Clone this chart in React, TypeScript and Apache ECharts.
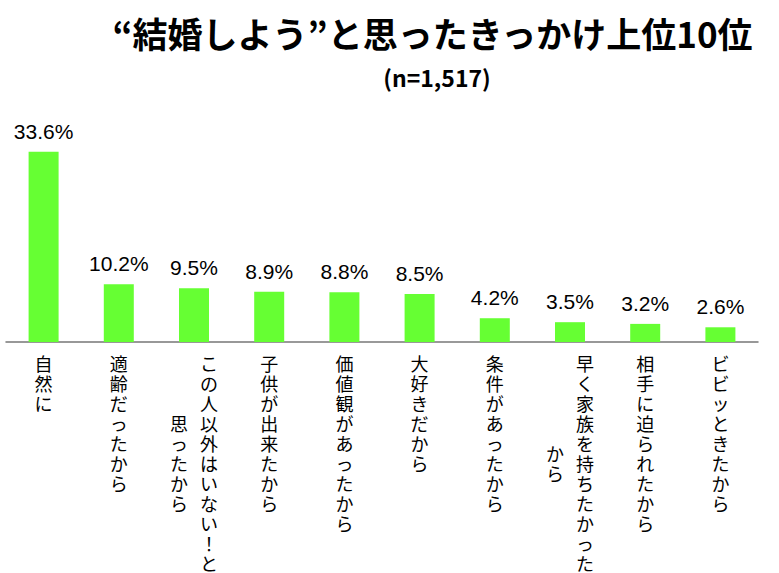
import React, { useEffect, useRef } from "react";
import * as echarts from "echarts";

const titleText = "“結婚しよう”と思ったきっかけ上位10位";
const subtitleText = "(n=1,517)";
const categories = [
  "自然に",
  "適齢だったから",
  "この人以外はいない！と思ったから",
  "子供が出来たから",
  "価値観があったから",
  "大好きだから",
  "条件があったから",
  "早く家族を持ちたかったから",
  "相手に迫られたから",
  "ビビッときたから",
];
const values = [33.6, 10.2, 9.5, 8.9, 8.8, 8.5, 4.2, 3.5, 3.2, 2.6];

const COL = 11;
const LH = 20;
const FS = 18;
const JP = "'Noto Sans CJK JP', sans-serif";

function columns(s: string): string[] {
  const chars = Array.from(s);
  const out: string[] = [];
  for (let i = 0; i < chars.length; i += COL) out.push(chars.slice(i, i + COL).join(""));
  return out;
}

const rich = {
  c: { width: 18, align: "center", fontSize: FS, lineHeight: LH, fontFamily: JP, color: "#000" },
  g: { width: 30, fontSize: FS, lineHeight: LH, fontFamily: JP },
  s: { fontSize: 2, lineHeight: 60, fontFamily: JP },
  t: { fontSize: 2, lineHeight: 90, fontFamily: JP },
};

export default function App() {
  const ref = useRef<HTMLDivElement>(null);
  useEffect(() => {
    document.body.style.margin = "0";
    const chart = echarts.init(ref.current!, null, { renderer: "svg" });
    chart.setOption({
      animation: false,
      backgroundColor: "#fff",
      title: [
        {
          text: titleText,
          right: 20,
          top: 10,
          textStyle: { fontSize: 35, fontWeight: "bold", fontFamily: JP, color: "#000" },
        },
        {
          text: subtitleText,
          left: 432,
          top: 60,
          textAlign: "center",
          textStyle: { fontSize: 23, fontWeight: "bold", fontFamily: JP, color: "#000" },
        },
      ],
      grid: { left: 6, right: 21, top: 59, bottom: 231, containLabel: false },
      xAxis: [
        {
          type: "category",
          data: categories,
          position: "bottom",
          axisLine: { lineStyle: { color: "#777", width: 1.5 } },
          axisTick: { show: false },
          axisLabel: {
            interval: 0,
            margin: 11,
            fontSize: FS,
            lineHeight: LH,
            fontFamily: JP,
            color: "#000",
            rich,
            formatter: (v: string) => {
              const c = columns(v);
              if (c.length === 1) return Array.from(c[0]).join("\n");
              return Array.from(c[0]).map((ch) => `{g| }{c|${ch}}`).join("\n");
            },
          },
        },
        {
          type: "category",
          data: categories,
          position: "bottom",
          axisLine: { show: false },
          axisTick: { show: false },
          axisLabel: {
            interval: 0,
            margin: 11,
            fontSize: FS,
            lineHeight: LH,
            fontFamily: JP,
            color: "#000",
            rich,
            formatter: (v: string) => {
              const c = columns(v);
              if (c.length < 2) return "";
              const off = ((Array.from(c[0]).length - Array.from(c[1]).length) / 2) * LH;
              const sp = off >= 80 ? "t" : "s";
              return `{${sp}| }\n` + Array.from(c[1]).map((ch) => `{c|${ch}}{g| }`).join("\n");
            },
          },
        },
      ],
      yAxis: { type: "value", min: 0, max: 50, show: false, splitLine: { show: false } },
      series: [
        {
          type: "bar",
          data: values,
          xAxisIndex: 0,
          barWidth: 30,
          itemStyle: { color: "#66ff33" },
          label: {
            show: true,
            position: "top",
            distance: 10,
            formatter: "{c}%",
            fontSize: 21,
            fontFamily: "'Liberation Sans', Arial, sans-serif",
            color: "#000",
          },
        },
      ],
    });
    return () => chart.dispose();
  }, []);
  return <div ref={ref} style={{ position: "absolute", left: 0, top: 0, width: 779, height: 573 }} />;
}
